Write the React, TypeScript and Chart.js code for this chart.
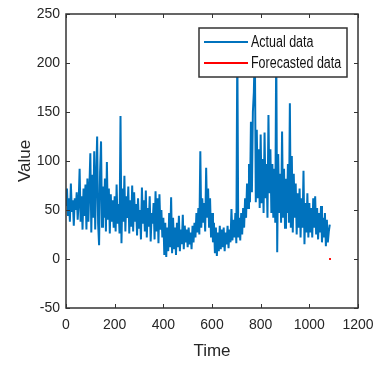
import React, { useEffect, useRef } from 'react';
import { Chart, registerables } from 'chart.js';

Chart.register(...registerables);

// ---- data ----
const TIME_STEP = 4;
const actualValues = [
  55, 72, 44, 62, 38, 77, 48, 60, 34, 62,
  50, 68, 40, 58, 92, 38, 64, 30, 72, 44,
  76, 30, 82, 38, 72, 108, 27, 86, 42, 110,
  30, 82, 125, 36, 14, 88, 120, 33, 74, 42,
  82, 28, 99, 40, 72, 26, 66, 38, 60, 32,
  64, 28, 76, 36, 56, 26, 146, 16, 72, 38,
  85, 28, 64, 42, 74, 26, 60, 33, 75, 28,
  68, 38, 56, 24, 62, 32, 50, 20, 73, 36,
  60, 28, 70, 22, 52, 33, 64, 18, 47, 36,
  57, 20, 69, 28, 62, 16, 66, 30, 50, 22,
  42, 4, 37, 2, 32, 8, 47, 12, 63, 6,
  42, 10, 32, 4, 37, 12, 44, 8, 30, 15,
  45, 10, 34, 17, 30, 12, 32, 15, 27, 10,
  34, 17, 37, 22, 47, 27, 52, 25, 110, 32,
  62, 37, 57, 28, 93, 42, 72, 32, 62, 22,
  47, 17, 37, 6, 32, 3, 27, 8, 34, 10,
  30, 12, 32, 8, 27, 15, 34, 11, 30, 17,
  51, 19, 40, 22, 47, 16, 220, 22, 42, 19,
  47, 25, 52, 32, 62, 42, 77, 52, 97, 58,
  140, 68, 150, 170, 220, 58, 132, 62, 112, 52,
  127, 57, 102, 47, 129, 62, 97, 42, 147, 67,
  112, 47, 97, 42, 92, 37, 220, 7, 107, 47,
  87, 37, 130, 42, 92, 32, 82, 47, 97, 37,
  159, 32, 105, 27, 87, 42, 77, 25, 67, 32,
  72, 22, 62, 32, 90, 15, 57, 27, 67, 22,
  57, 27, 52, 22, 62, 32, 64, 25, 52, 20,
  47, 27, 54, 17, 42, 22, 47, 13, 40, 17,
  28, 35,
];
const forecastTimes = [1085];
const forecastValues = [0];

const xTickValues = [0, 200, 400, 600, 800, 1000, 1200];
const yTickValues = [-50, 0, 50, 100, 150, 200, 250];
const legendLabels = ['Actual data', 'Forecasted data'];

const BLUE = '#0072BD';
const RED = '#FF0000';
const AXIS = '#333333';
const TEXT = '#262626';
const FONT = '"Liberation Sans", Arial, sans-serif';

const boxPlugin = {
  id: 'matlabBox',
  afterDatasetsDraw(chart: any) {
    const { ctx, chartArea, scales } = chart;
    const { left, right, top, bottom } = chartArea;
    const xs = scales.x;
    const ys = scales.y;
    ctx.save();
    ctx.strokeStyle = AXIS;
    ctx.lineWidth = 1.5;
    ctx.strokeRect(left, top, right - left, bottom - top);
    ctx.lineWidth = 1;
    const tl = 4;
    ctx.beginPath();
    xs.ticks.forEach((t: any) => {
      const px = Math.round(xs.getPixelForValue(t.value)) + 0.5;
      ctx.moveTo(px, bottom); ctx.lineTo(px, bottom - tl);
      ctx.moveTo(px, top); ctx.lineTo(px, top + tl);
    });
    ys.ticks.forEach((t: any) => {
      const py = Math.round(ys.getPixelForValue(t.value)) + 0.5;
      ctx.moveTo(left, py); ctx.lineTo(left + tl, py);
      ctx.moveTo(right, py); ctx.lineTo(right - tl, py);
    });
    ctx.stroke();

    // legend
    const lx = 199, ly = 28, lw = 148, lh = 49;
    ctx.fillStyle = '#ffffff';
    ctx.fillRect(lx, ly, lw, lh);
    ctx.strokeStyle = AXIS;
    ctx.lineWidth = 1.5;
    ctx.strokeRect(lx, ly, lw, lh);
    const rows = [
      { label: legendLabels[0], color: BLUE, y: 42 },
      { label: legendLabels[1], color: RED, y: 63 },
    ];
    rows.forEach((r) => {
      ctx.strokeStyle = r.color;
      ctx.lineWidth = 2;
      ctx.beginPath();
      ctx.moveTo(204, r.y);
      ctx.lineTo(248, r.y);
      ctx.stroke();
      ctx.save();
      ctx.translate(251, r.y + 1);
      ctx.scale(0.78, 1);
      ctx.font = `16px ${FONT}`;
      ctx.textBaseline = 'middle';
      ctx.textAlign = 'left';
      ctx.fillStyle = '#111111';
      ctx.fillText(r.label, 0, 0);
      ctx.restore();
    });
    ctx.restore();
  },
};

export default function App() {
  const ref = useRef<HTMLCanvasElement>(null);

  useEffect(() => {
    document.body.style.margin = '0';
    const canvas = ref.current!;
    const actual = actualValues.map((v, i) => ({ x: i * TIME_STEP, y: v }));
    const forecast = forecastTimes.map((t, i) => ({ x: t, y: forecastValues[i] }));
    const chart = new Chart(canvas, {
      type: 'line',
      data: {
        datasets: [
          {
            label: legendLabels[0],
            data: actual,
            borderColor: BLUE,
            borderWidth: 2,
            pointRadius: 0,
            tension: 0,
          },
          {
            label: legendLabels[1],
            data: forecast,
            borderColor: RED,
            backgroundColor: RED,
            showLine: false,
            pointRadius: 1.3,
            pointStyle: 'rect',
            borderWidth: 0,
          },
        ],
      },
      options: {
        responsive: false,
        animation: false,
        devicePixelRatio: 1,
        layout: { padding: { left: 0, right: 16, top: 14, bottom: 0 } },
        plugins: {
          legend: { display: false },
          tooltip: { enabled: false },
        },
        scales: {
          x: {
            type: 'linear',
            min: 0,
            max: 1200,
            afterBuildTicks: (s: any) => { s.ticks = xTickValues.map((v) => ({ value: v })); },
            ticks: { color: TEXT, font: { family: FONT, size: 14 }, padding: 9, maxRotation: 0, autoSkip: false, callback: (v: any) => String(v) },
            grid: { display: false, drawTicks: false },
            border: { display: false },
            title: { display: true, text: 'Time', color: TEXT, font: { family: FONT, size: 17 }, padding: { top: 0, bottom: 3 } },
            afterFit: (s: any) => { s.height = 57; s.paddingLeft = 0; s.paddingRight = 0; },
          },
          y: {
            type: 'linear',
            min: -50,
            max: 250,
            afterBuildTicks: (s: any) => { s.ticks = yTickValues.map((v) => ({ value: v })); },
            ticks: { color: TEXT, font: { family: FONT, size: 14 }, padding: 6, autoSkip: false, callback: (v: any) => String(v) },
            grid: { display: false, drawTicks: false },
            border: { display: false },
            title: { display: true, text: 'Value', color: TEXT, font: { family: FONT, size: 17 }, padding: { top: 15, bottom: 0 } },
            afterFit: (s: any) => { s.width = 66; s.paddingTop = 0; s.paddingBottom = 0; },
          },
        },
      },
      plugins: [boxPlugin],
    });
    return () => chart.destroy();
  }, []);

  return (
    <div style={{ position: 'absolute', left: 0, top: 0, width: 374, height: 365, background: '#fff' }}>
      <canvas ref={ref} width={374} height={365} />
    </div>
  );
}
